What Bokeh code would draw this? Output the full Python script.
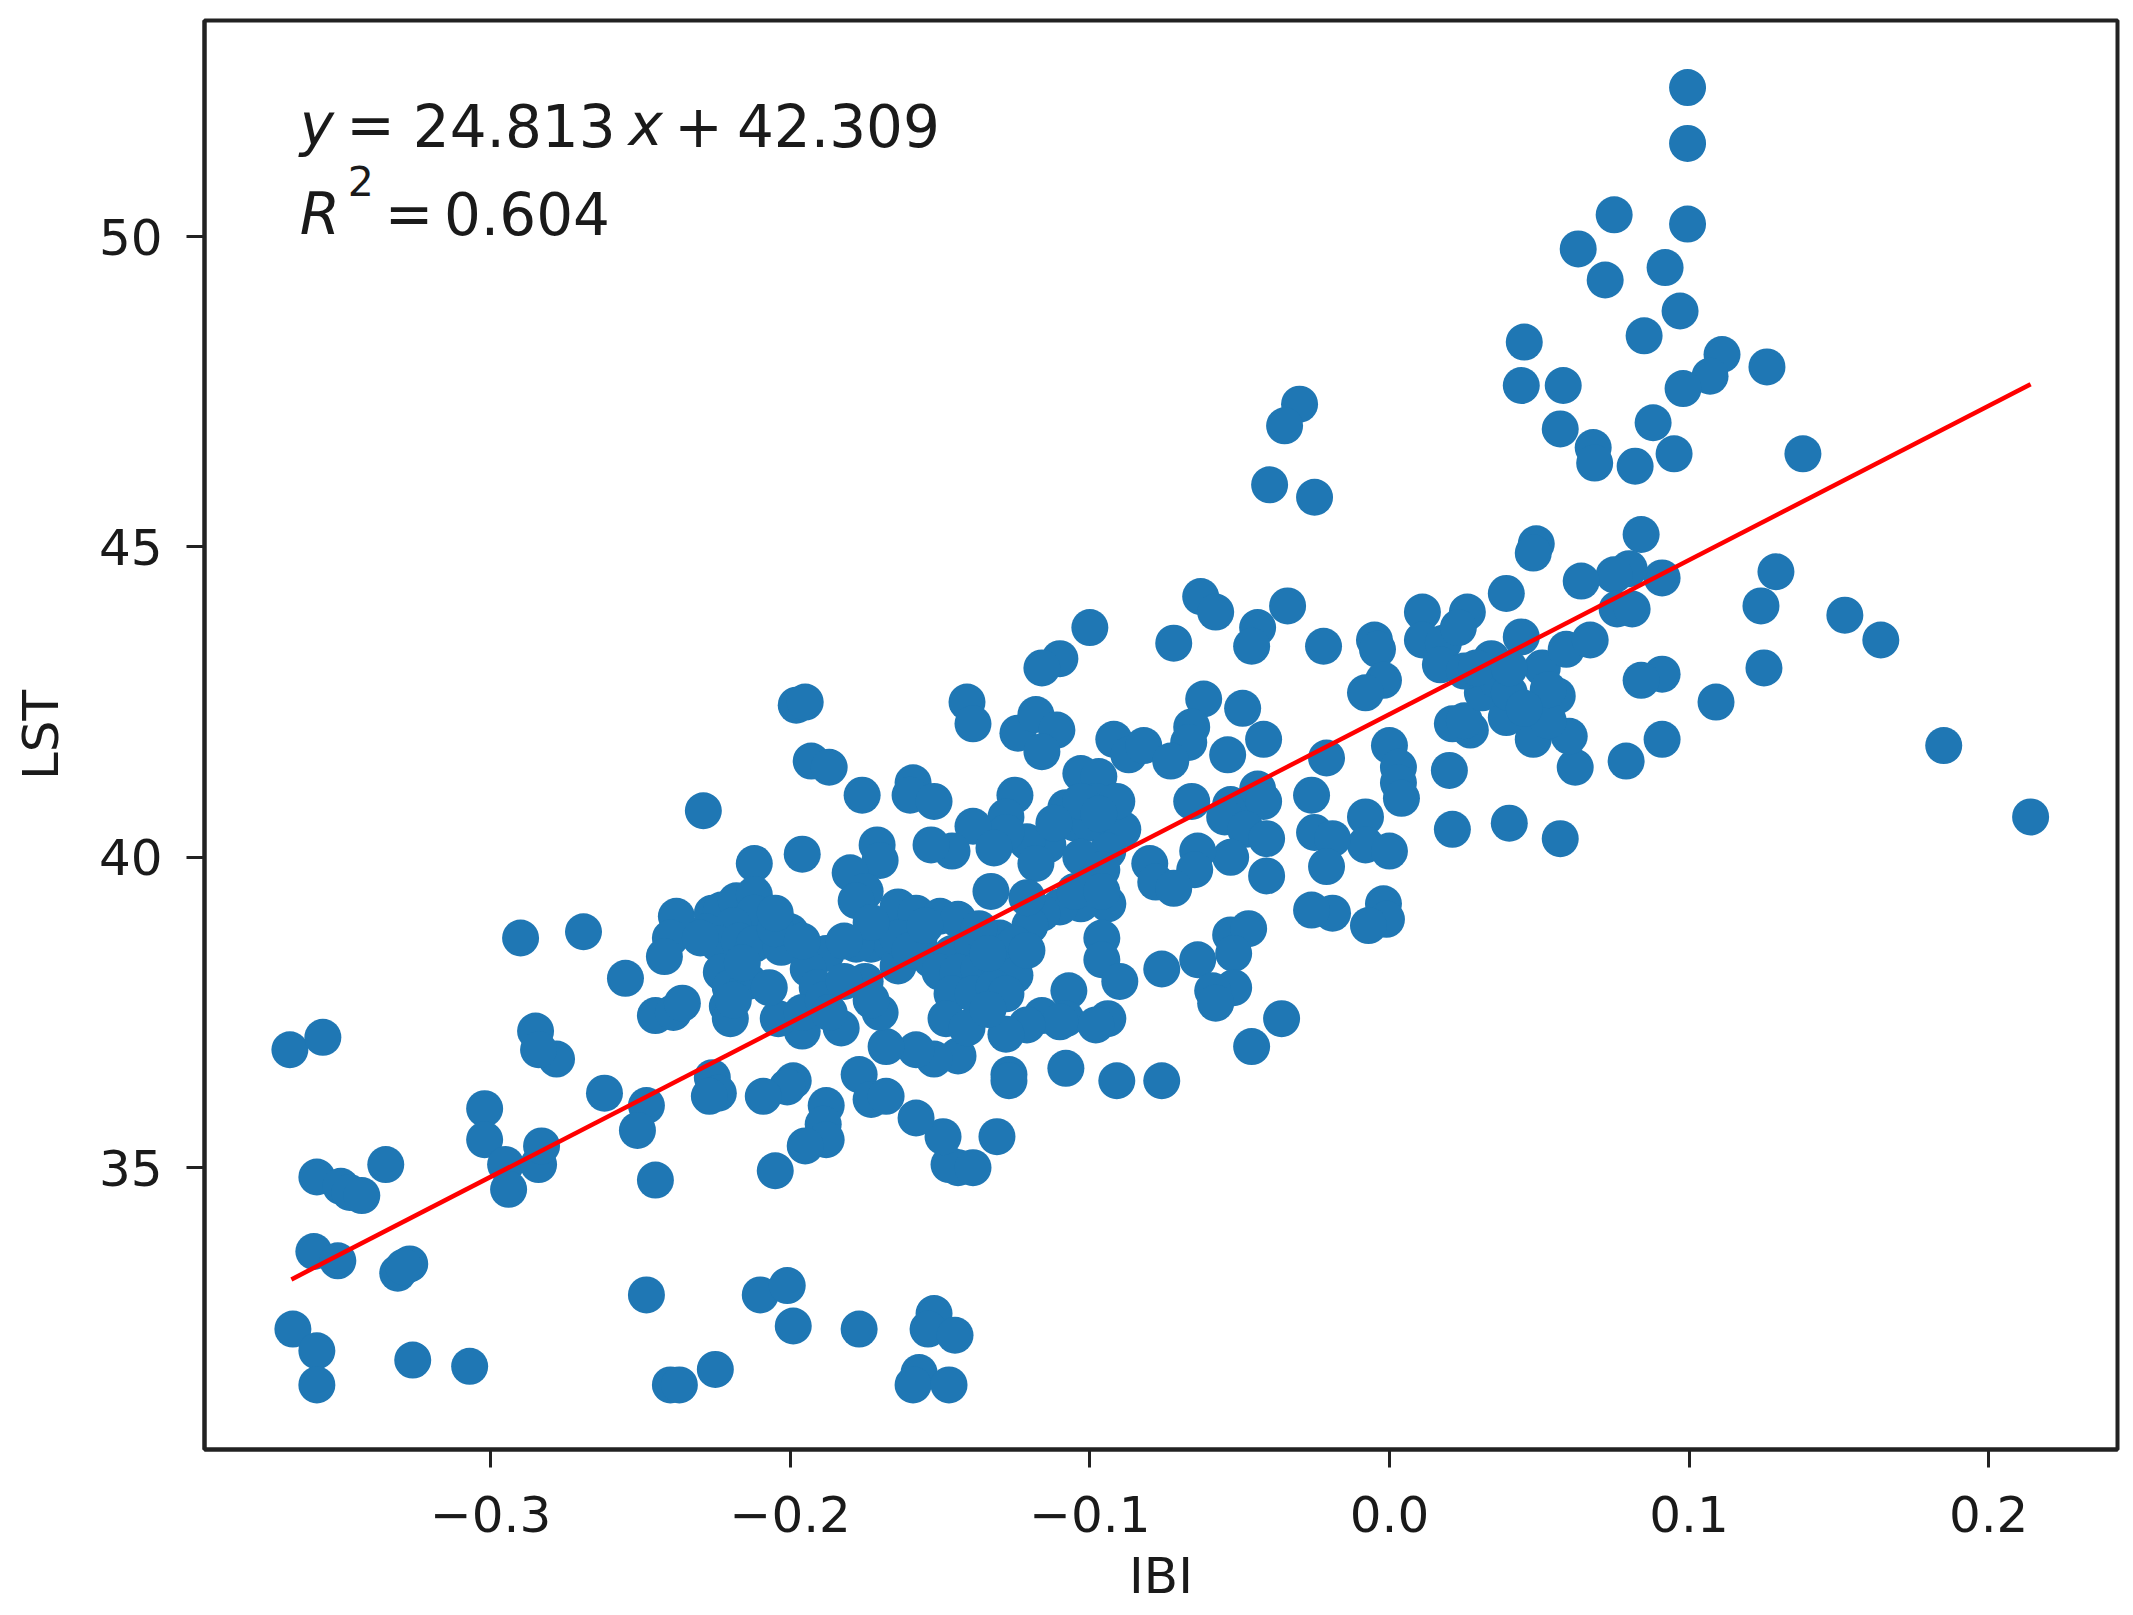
from bokeh.embed import file_html
from bokeh.models import FixedTicker, Label, Range1d
from bokeh.plotting import figure
from bokeh.resources import INLINE

ibi = [
    .0995, .0995, .0995, .075, .063, .072, .092, .097, .085, .045, .111, .126, .107, .098, .044, .058, .088, .057,
    .068, .0685, .082, .095, .138, -.03, -.035, -.04, -.025, .084, .049, .048, .091, .08, .075, .064, .129, .124,
    .076, .081, .152, .164, .125, .109, .091, .084, .091, .079, .185, .214, .057, .04, .021, .02, .062, .06, .056,
    .047, .048, .053, .039, .027, .021, .025, .031, .034, .036, .04, .051, .053, .044, .059, .067, .039, .026, .011,
    .011, .018, .023, .017, .025, .034, -.005, -.004, -.002, -.008, 0, .003, .003, .004, -.008, -.008, 0, -.002,
    -.001, -.007, -.019, -.026, -.036, -.046, -.076, -.091, -.108, -.022, -.034, -.044, -.046, -.063, -.058, -.072,
    -.1, -.11, -.116, -.141, -.139, -.198, -.195, -.193, -.187, -.176, -.229, -.196, -.212, -.049, -.062, -.066,
    -.067, -.054, -.042, -.021, -.026, -.124, -.118, -.111, -.116, -.092, -.087, -.082, -.073, -.103, -.097, -.125,
    -.128, -.159, -.16, -.152, -.066, -.053, -.044, -.042, -.055, -.048, -.041, -.053, -.064, -.065, -.041, -.025,
    -.019, -.021, -.108, -.105, -.098, -.1, -.089, -.094, -.114, -.121, -.128, -.139, -.146, -.153, -.132, -.118,
    -.103, -.096, -.08, -.078, -.072, -.171, -.17, -.18, -.175, -.178, -.133, -.1, -.094, -.103, -.11, -.116, -.12,
    -.096, -.096, -.09, -.076, -.064, -.053, -.047, -.052, -.052, -.059, -.058, -.107, -.108, -.094, -.098, -.116,
    -.11, -.121, -.128, -.127, -.127, -.131, -.144, -.147, -.139, -.149, -.158, -.144, -.152, -.158, -.168, -.17,
    -.183, -.196, -.204, -.177, -.173, -.168, -.188, -.189, -.188, -.195, -.205, -.199, -.201, -.209, -.226, -.224,
    -.227, -.248, -.251, -.245, -.262, -.278, -.285, -.284, -.29, -.269, -.255, -.245, -.239, -.236, -.302, -.302,
    -.295, -.294, -.284, -.283, -.335, -.358, -.35, -.347, -.343, -.367, -.356, -.359, -.351, -.331, -.327, -.329,
    -.366, -.358, -.358, -.326, -.307, -.248, -.21, -.201, -.199, -.177, -.152, -.154, -.145, -.157, -.159, -.147,
    -.225, -.24, -.237, -.238, -.24, -.242, -.226, -.223, -.218, -.212, -.212, -.219, -.228, -.224, -.217, -.212,
    -.2, -.203, -.188, -.194, -.191, -.223, -.22, -.214, -.207, -.221, -.22, -.196, -.189, -.168, -.164, -.158,
    -.15, -.144, -.173, -.166, -.157, -.178, -.153, -.146, -.139, -.13, -.125, -.15, -.144, -.137, -.13, -.125,
    -.146, -.139, -.132, -.128, -.148, -.141, -.134, -.175, -.173, -.164,
    -.205, -.216, -.23, -.164, -.16, -.137, -.121, -.134, -.155, -.173, -.182, -.105, -.103, -.091, -.097, -.112,
    .045, .029, .04, -.205, -.196, -.182, -.187, -.219, -.121, -.096,
]
lst = [
    52.4, 51.5, 50.2, 50.35, 49.8, 49.3, 49.5, 48.8, 48.4, 48.3, 48.1, 47.9, 47.75, 47.55, 47.6, 47.6, 47.0, 46.9,
    46.6, 46.35, 46.3, 46.5, 46.5, 47.3, 46.95, 46.0, 45.8, 45.2, 45.05, 44.9, 44.5, 44.65, 44.55, 44.45, 44.6, 44.05,
    44.0, 44.0, 43.9, 43.5, 43.05, 42.5, 42.95, 42.85, 41.9, 41.55, 41.8, 40.65, 40.3, 40.55, 40.45, 41.4, 41.45, 41.95, 42.6,
    42.2, 41.9, 42.2, 42.25, 42.05, 42.15, 42.2, 42.65, 43.05, 42.85, 42.65, 43.05, 42.7, 43.55, 43.35, 43.5, 44.25, 43.95, 43.95,
    43.5, 43.45, 43.7, 43.1, 43.0, 43.2, 43.5, 43.35, 42.85, 42.65, 41.8, 41.45, 41.2, 40.95, 40.65, 40.2, 40.1, 39.25,
    39.0, 38.9, 39.1, 39.15, 37.4, 36.95, 36.4, 36.4, 36.6, 43.4, 44.05, 43.7, 43.4, 44.2, 43.95, 43.45,
    43.7, 43.2, 43.05, 42.5, 42.15, 42.45, 42.5, 41.55, 41.45, 41.0, 40.75, 40.05, 39.9, 42.4, 42.55, 42.1,
    41.85, 41.65, 41.9, 41.6, 41.0, 42.0, 42.3, 42.05, 41.7, 41.9, 41.65, 41.8, 41.55, 41.35, 41.3, 41.0,
    40.65, 41.2, 41.0, 40.9, 40.9, 40.85, 41.1, 40.9, 40.65, 40.45, 40.3, 40.0, 40.1, 39.8, 39.7, 40.4,
    40.3, 39.85, 40.8, 40.55, 40.9, 40.55, 40.45, 40.1, 40.2, 40.25, 40.4, 40.5, 40.1, 40.2, 40.15, 39.9,
    40.0, 39.8, 39.9, 39.6, 39.5, 40.2, 39.95, 39.75, 39.45, 39.3, 39.45, 39.55, 39.25, 39.25, 39.2, 39.1, 38.9,
    38.7, 38.35, 38.0, 38.2, 38.35, 38.75, 38.85, 38.45, 37.9, 37.85, 37.65, 37.85, 37.4, 37.4, 37.3, 37.45,
    37.35, 37.3, 37.15, 36.5, 36.4, 35.5, 35.0, 35.05, 35.0, 35.5, 35.8, 36.8, 36.75, 36.9, 36.95, 37.5,
    37.25, 37.2, 37.4, 36.5, 36.1, 36.15, 36.0, 35.7, 35.45, 35.35, 34.95, 36.4, 36.3, 36.15, 36.45, 36.2,
    36.15, 36.0, 35.6, 34.8, 36.2, 36.75, 37.2, 36.9, 38.7, 38.8, 38.05, 37.45, 37.5, 37.65, 35.95, 35.45,
    35.05, 34.65, 35.05, 35.35, 35.05, 34.85, 34.7, 34.6, 34.55, 36.9, 37.1, 33.65, 33.5, 33.3, 33.45, 33.4,
    32.4, 32.05, 31.5, 31.9, 31.8, 32.95, 32.95, 33.1, 32.45, 32.4, 32.65, 32.4, 32.3, 31.7, 31.5, 31.5,
    31.75, 31.5, 31.5, 39.05, 38.7, 38.4, 39.1, 39.15, 39.3, 39.4, 39.1, 38.9, 38.8, 38.6, 38.65, 38.6,
    38.8, 38.55, 38.45, 38.2, 37.9, 38.15, 37.9, 38.0, 37.9, 37.6, 37.4, 37.5, 37.7, 38.9, 39.2, 39.1,
    39.05, 39.0, 38.6, 38.6, 38.7, 38.6, 38.35, 38.45, 38.6, 38.7, 38.6, 38.15, 38.15, 38.2, 38.2, 38.1,
    37.8, 37.8, 37.9, 37.8, 37.4, 37.25, 37.55, 38.0, 37.7, 38.25,
    38.85, 38.3, 38.7, 38.7, 38.5, 38.85, 38.5, 38.45, 38.9, 38.95, 38.65, 39.45, 40.9, 40.9, 40.7, 40.55,
    42.4, 43.05, 43.05, 39.1, 38.65, 38.0, 37.5, 37.7, 39.35, 39.45,
]
fit_ibi = [-0.3665, 0.2140]
fit_lst = [33.2, 47.62]

x_ticks = [-0.3, -0.2, -0.1, 0.0, 0.1, 0.2]
x_tick_labels = ["\u22120.3", "\u22120.2", "\u22120.1", "0.0", "0.1", "0.2"]
y_ticks = [35, 40, 45, 50]

p = figure(
    width=2125,
    height=1607,
    output_backend="svg",
    toolbar_location=None,
    x_range=Range1d(-0.3955, 0.2430),
    y_range=Range1d(30.46, 53.48),
    x_axis_label="IBI",
    y_axis_label="LST",
    min_border_left=204,
    min_border_right=8,
    min_border_top=20,
    min_border_bottom=158,
)
p.grid.visible = False
p.outline_line_color = "#222222"
p.outline_line_width = 4
p.outline_line_alpha = 1

for ax in (p.xaxis[0], p.yaxis[0]):
    ax.axis_line_color = "#222222"
    ax.axis_line_width = 4
    ax.major_tick_line_color = "#222222"
    ax.major_tick_line_width = 3
    ax.major_tick_out = 18
    ax.major_tick_in = 0
    ax.minor_tick_out = 0
    ax.minor_tick_in = 0
    ax.major_label_text_font = "DejaVu Sans"
    ax.major_label_text_font_size = "50px"
    ax.major_label_text_color = "#1a1a1a"
    ax.major_label_text_line_height = 1.0
    ax.axis_label_text_font = "DejaVu Sans"
    ax.axis_label_text_font_size = "50px"
    ax.axis_label_text_font_style = "normal"
    ax.axis_label_text_color = "#1a1a1a"
    ax.axis_label_text_line_height = 1.0

p.xaxis[0].major_label_standoff = 28
p.xaxis[0].axis_label_standoff = 12
p.xaxis[0].axis_label_text_baseline = "middle"
p.yaxis[0].major_label_standoff = 24
p.yaxis[0].axis_label_standoff = 26

p.xaxis[0].ticker = FixedTicker(ticks=x_ticks)
p.xaxis[0].major_label_overrides = dict(zip(x_ticks, x_tick_labels))
p.yaxis[0].ticker = FixedTicker(ticks=y_ticks)
p.yaxis[0].major_label_orientation = "horizontal"

p.scatter(ibi, lst, size=37, color="#1f77b4", line_color=None)
p.line(fit_ibi, fit_lst, color="red", line_width=4.5)

# annotation pieces: text, x, y, size, style
notes = [
    ("y", -0.3637, 51.79, 58, "italic"),
    ("=", -0.3482, 51.79, 58, "normal"),
    ("24.813", -0.3260, 51.79, 58, "normal"),
    ("x", -0.2540, 51.79, 58, "italic"),
    ("+", -0.2387, 51.79, 58, "normal"),
    ("42.309", -0.2178, 51.79, 58, "normal"),
    ("R", -0.3637, 50.37, 58, "italic"),
    ("2", -0.3477, 50.90, 41, "normal"),
    ("=", -0.3353, 50.37, 58, "normal"),
    ("0.604", -0.3156, 50.37, 58, "normal"),
]
for text, x, y, size, style in notes:
    p.add_layout(Label(x=x, y=y, text=text, text_font="DejaVu Sans", text_font_size=f"{size}px",
                       text_font_style=style, text_color="#1a1a1a", text_baseline="alphabetic"))

open("out.html", "w").write(file_html(p, INLINE))
